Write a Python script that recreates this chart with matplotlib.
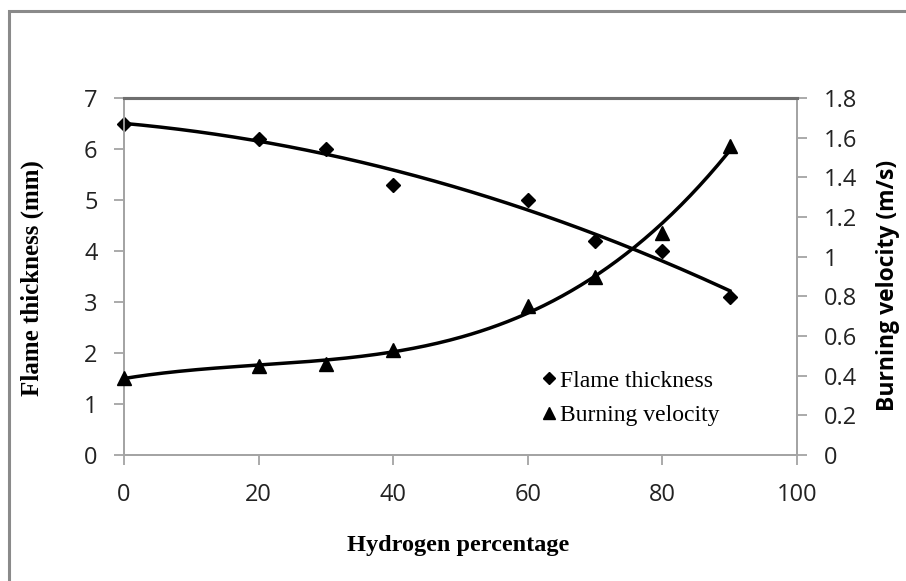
import numpy as np
import matplotlib
matplotlib.use("Agg")
import matplotlib.pyplot as plt
from matplotlib.patches import Rectangle
from matplotlib.lines import Line2D

# dati
idrogeno = [0, 20, 30, 40, 60, 70, 80, 90]
spessore_fiamma = [6.5, 6.2, 6.0, 5.3, 5.0, 4.2, 4.0, 3.1]
velocita = [0.39, 0.45, 0.46, 0.53, 0.75, 0.90, 1.12, 1.56]

x_ticks = [0, 20, 40, 60, 80, 100]
y1_ticks = [0, 1, 2, 3, 4, 5, 6, 7]
y2_ticks = [0, 0.2, 0.4, 0.6, 0.8, 1.0, 1.2, 1.4, 1.6, 1.8]

W, H = 906, 581
fig = plt.figure(figsize=(W / 100, H / 100), dpi=100)
fig.patch.set_facecolor("white")

# cornice esterna grigia (solo lato sinistro e superiore visibili)
fig.add_artist(Rectangle((8.5 / W, -0.2), 1.5, 1.2 - 10.5 / H, transform=fig.transFigure,
                         fill=False, edgecolor="#8a8a8a", linewidth=2.2))

ax = fig.add_axes([124 / W, 1 - 455 / H, (797 - 124) / W, (455 - 98) / H])
ax2 = ax.twinx()

# linee di tendenza polinomiali
xx = np.linspace(0, 90, 200)
p1 = np.polyfit(idrogeno, spessore_fiamma, 2)
p2 = np.polyfit(idrogeno, velocita, 3)
ax.plot(xx, np.polyval(p1, xx), color="black", lw=2.5, zorder=2)
ax2.plot(xx, np.polyval(p2, xx), color="black", lw=2.5, zorder=2)

ax.plot(idrogeno, spessore_fiamma, linestyle="none", marker="D", color="black",
        markersize=6.8, zorder=3, clip_on=False)
ax2.plot(idrogeno, velocita, linestyle="none", marker="^", color="black",
         markersize=10, zorder=3, clip_on=False)

ax.set_xlim(0, 100)
ax.set_ylim(0, 7)
ax2.set_ylim(0, 1.8)
ax.set_xticks(x_ticks)
ax.set_yticks(y1_ticks)
ax2.set_yticks(y2_ticks)
ax2.set_yticklabels(["%g" % v for v in y2_ticks])

for lab in ax.get_xticklabels() + ax.get_yticklabels() + ax2.get_yticklabels():
    lab.set_fontfamily("Open Sans")
    lab.set_fontsize(17)
    lab.set_color("#222222")

grigio = "#a4a4a4"
for a in (ax, ax2):
    for s in ("left", "right", "bottom"):
        a.spines[s].set_color(grigio)
        a.spines[s].set_linewidth(1.3)
    a.spines["top"].set_color("#6e6e6e")
    a.spines["top"].set_linewidth(2.2)
    a.tick_params(color=grigio, width=1.3, length=7, direction="out")
ax.tick_params(axis="x", pad=13)
ax.tick_params(axis="y", pad=12)
ax2.tick_params(axis="y", pad=12)

ax.set_xlabel("Hydrogen percentage", fontfamily="Liberation Serif", fontweight="bold",
              fontsize=17.5)
ax.xaxis.set_label_coords(0.496, -0.225)
ax.set_ylabel("Flame thickness (mm)", fontfamily="Liberation Serif", fontweight="bold",
              fontsize=18)
ax.yaxis.set_label_coords(-0.119, 0.496)
ax2.set_ylabel("Burning velocity (m/s)", fontfamily="Open Sans", fontweight="bold",
               fontsize=16.5)
ax2.yaxis.set_label_coords(1.117, 0.476)

handles = [Line2D([], [], linestyle="none", marker="D", color="black", markersize=6),
           Line2D([], [], linestyle="none", marker="^", color="black", markersize=9)]
ax2.legend(handles, ["Flame thickness", "Burning velocity"], loc="center left",
           bbox_to_anchor=((540 - 124) / 673, (455 - 398) / 357), borderaxespad=0,
           borderpad=0, frameon=False, handletextpad=0.05, handlelength=0.8,
           labelspacing=0.55, prop=dict(family="Liberation Serif", size=17))

fig.savefig("out.png", dpi=100)
